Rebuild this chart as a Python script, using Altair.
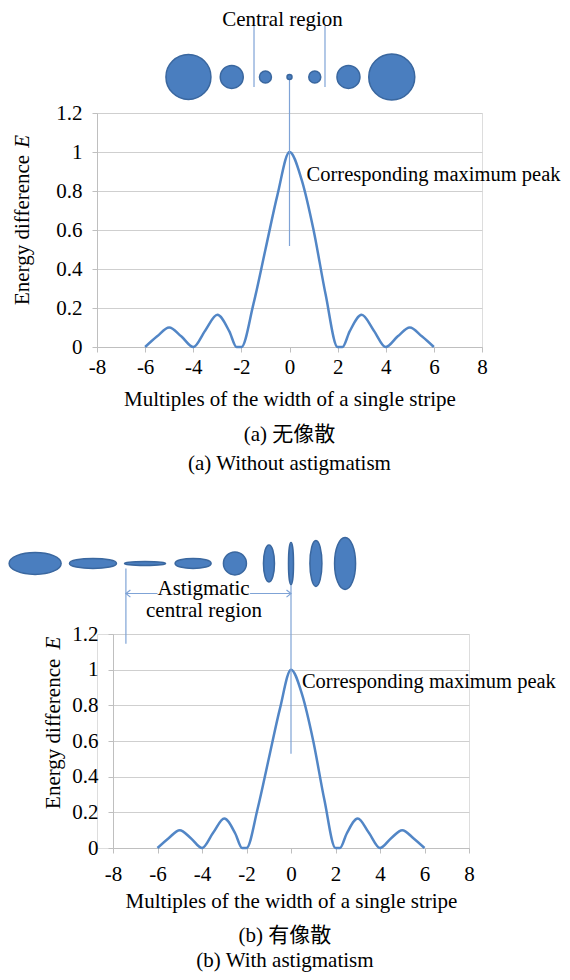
import altair as alt
import pandas as pd

SERIF = "Liberation Serif"
MIXED = "Liberation Serif, Noto Sans CJK SC"
FILL = "#4A7EBF"
EDGE = "#3A679F"
CURVE = "#5286C6"
ANN = "#7FA3D6"
GRID = "#CFCFCF"
AXISC = "#BFBFBF"

# ---- data: energy difference curve (same for both panels) ----
curve_x = [-6, -5.5, -5, -4.5, -4, -3.5, -3, -2.5, -2.2, -2, -1.5, -1, -0.5, 0,
           0.5, 1, 1.5, 2, 2.2, 2.5, 3, 3.5, 4, 4.5, 5, 5.5, 6]
curve_y = [0, 0.055, 0.1, 0.055, 0, 0.085, 0.165, 0.08, 0, 0, 0.22, 0.5, 0.78, 1,
           0.86, 0.6, 0.27, 0, 0, 0.08, 0.165, 0.085, 0, 0.055, 0.1, 0.055, 0]

x_ticks = [-8, -6, -4, -2, 0, 2, 4, 6, 8]
y_ticks = [0, 0.2, 0.4, 0.6, 0.8, 1, 1.2]

# ---- panel (a): spot sizes (px) ----
spots_a_x = [-4.2, -2.4, -1.0, 0.0, 1.05, 2.45, 4.25]
spots_a_w = [45, 23, 12, 5, 12, 23, 46]
spots_a_h = [45, 23, 12, 5, 12, 23, 46]
spots_a_y = 1.385

# ---- panel (b): astigmatic spot sizes (px) ----
spots_b_x = [-11.5, -8.9, -6.56, -4.4, -2.52, -0.99, 0.0, 1.12, 2.43]
spots_b_w = [52, 47, 41, 36, 23, 11, 5, 12, 21]
spots_b_h = [22, 10, 4, 10, 23, 37, 42, 46, 52]
spots_b_y = 1.596

TITLE_X = "Multiples of the width of a single stripe"


def ellipse_path(w, h):
    L = max(w, h)
    a, b, k = w / L, h / L, 0.5523
    return (f"M {a} 0 C {a} {k*b} {k*a} {b} 0 {b} C {-k*a} {b} {-a} {k*b} {-a} 0 "
            f"C {-a} {-k*b} {-k*a} {-b} 0 {-b} C {k*a} {-b} {a} {-k*b} {a} 0 Z")


def spots_df(xs, ws, hs, y):
    return pd.DataFrame({
        "x": xs, "y": [y] * len(xs),
        "path": [ellipse_path(w, h) for w, h in zip(ws, hs)],
        "size": [max(w, h) ** 2 for w, h in zip(ws, hs)],
    })


curve_df = pd.DataFrame({"x": curve_x, "y": curve_y})


def panel(w, h, shift, spots, segs, heads, texts_c, texts_l, ytitle,
          label_pad, title_pad):
    xs = alt.Scale(domain=[-8, 8], nice=False, zero=False, range=[shift, shift + w])
    ys = alt.Scale(domain=[0, 1.2], nice=False, zero=False)
    x_axis = alt.Axis(
        values=x_ticks, labelExpr="'' + datum.value", grid=False, labelFlush=False,
        labelOverlap=False,
        domainColor=AXISC, tickColor=AXISC, tickSize=5, ticks=True,
        labelFont=SERIF, labelFontSize=21, labelColor="black",
        labelPadding=label_pad, title=TITLE_X, titleFont=SERIF,
        titleFontSize=21, titleFontWeight="normal", titleColor="black",
        titlePadding=title_pad)
    y_axis = alt.Axis(
        values=y_ticks, format="~g", grid=True, gridColor=GRID, labelFlush=False,
        domainColor=AXISC, tickColor=AXISC, tickSize=5, offset=-shift,
        labelFont=SERIF, labelFontSize=21, labelColor="black",
        labelPadding=10, title=None)
    X = lambda: alt.X("x:Q", scale=xs, axis=x_axis)
    Y = lambda: alt.Y("y:Q", scale=ys, axis=y_axis)

    layers = [alt.Chart(curve_df).mark_line(
        color=CURVE, strokeWidth=2.5, interpolate="monotone"
    ).encode(x=X(), y=Y())]

    layers.append(alt.Chart(segs).mark_rule(color=ANN, strokeWidth=1.2).encode(
        x=X(), y=Y(), x2="x2:Q", y2="y2:Q"))

    layers.append(alt.Chart(spots).mark_point(
        filled=True, fill=FILL, stroke=EDGE, strokeWidth=1.5, opacity=1
    ).encode(x=X(), y=Y(), shape=alt.Shape("path:N", scale=None),
             size=alt.Size("size:Q", scale=None)))

    if heads is not None:
        layers.append(alt.Chart(heads).mark_point(
            filled=False, stroke=ANN, strokeWidth=1.2, opacity=1
        ).encode(x=X(), y=Y(), shape=alt.Shape("path:N", scale=None),
                 size=alt.Size("size:Q", scale=None)))

    layers.append(alt.Chart(texts_c).mark_text(
        font=MIXED, fontSize=21, color="black", align="center", baseline="middle"
    ).encode(x=X(), y=Y(), text="text:N"))
    layers.append(alt.Chart(texts_l).mark_text(
        font=SERIF, fontSize=20.5, color="black", align="left", baseline="middle"
    ).encode(x=X(), y=Y(), text="text:N"))

    # y-axis title: "Energy difference" + italic E, rotated
    tx, ybot, ytop = ytitle
    layers.append(alt.Chart(pd.DataFrame({"x": [tx], "y": [ybot], "text": ["Energy difference"]}))
                  .mark_text(font=SERIF, fontSize=21, color="black", align="left",
                             baseline="middle", angle=270)
                  .encode(x=X(), y=Y(), text="text:N"))
    layers.append(alt.Chart(pd.DataFrame({"x": [tx], "y": [ytop], "text": ["E"]}))
                  .mark_text(font=SERIF, fontSize=21, fontStyle="italic", color="black",
                             align="right", baseline="middle", angle=270)
                  .encode(x=X(), y=Y(), text="text:N"))

    return alt.layer(*layers).properties(width=shift + w, height=h)


# ---- panel (a) annotations ----
segs_a = pd.DataFrame({
    "x": [-1.475, 1.475, 0.0], "y": [1.646, 1.646, 1.385],
    "x2": [-1.475, 1.475, 0.0], "y2": [1.333, 1.333, 0.518],
})
texts_a_c = pd.DataFrame({
    "x": [-0.29, 0.0, 0.0], "y": [1.677, -0.452, -0.6],
    "text": ["Central region", "(a) 无像散", "(a) Without astigmatism"],
})
texts_a_l = pd.DataFrame({"x": [0.71], "y": [0.882], "text": ["Corresponding maximum peak"]})

chart_a = panel(385, 234, 0, spots_df(spots_a_x, spots_a_w, spots_a_h, spots_a_y),
                segs_a, None, texts_a_c, texts_a_l, (-11.06, 0.215, 1.087), 4, 11)

# ---- panel (b) annotations ----
segs_b = pd.DataFrame({
    "x": [-7.42, 0.0, -7.42, -1.84], "y": [1.567, 1.55, 1.427, 1.427],
    "x2": [-7.42, 0.0, -6.0, 0.0], "y2": [1.146, 0.528, 1.427, 1.427],
})
heads_b = pd.DataFrame({
    "x": [-7.42, 0.0], "y": [1.427, 1.427],
    "path": ["M 1 -0.8 L 0 0 L 1 0.8", "M -1 -0.8 L 0 0 L -1 0.8"],
    "size": [81, 81],
})
texts_b_c = pd.DataFrame({
    "x": [-3.93, -3.91, -0.27, -0.27], "y": [1.455, 1.331, -0.495, -0.634],
    "text": ["Astigmatic", "central region", "(b) 有像散", "(b) With astigmatism"],
})
texts_b_l = pd.DataFrame({"x": [0.49], "y": [0.933], "text": ["Corresponding maximum peak"]})

chart_b = panel(356, 214, 16, spots_df(spots_b_x, spots_b_w, spots_b_h, spots_b_y),
                segs_b, heads_b, texts_b_c, texts_b_l, (-10.65, 0.219, 1.185), 10, 6)

chart = alt.concat(chart_a, chart_b, columns=1, align="none", spacing=58).properties(
    padding={"left": -3, "top": 0, "right": 0, "bottom": 0}
).configure_view(strokeWidth=0).configure(background="white")

chart.save("out.html", embed_options={"renderer": "svg", "actions": False})
